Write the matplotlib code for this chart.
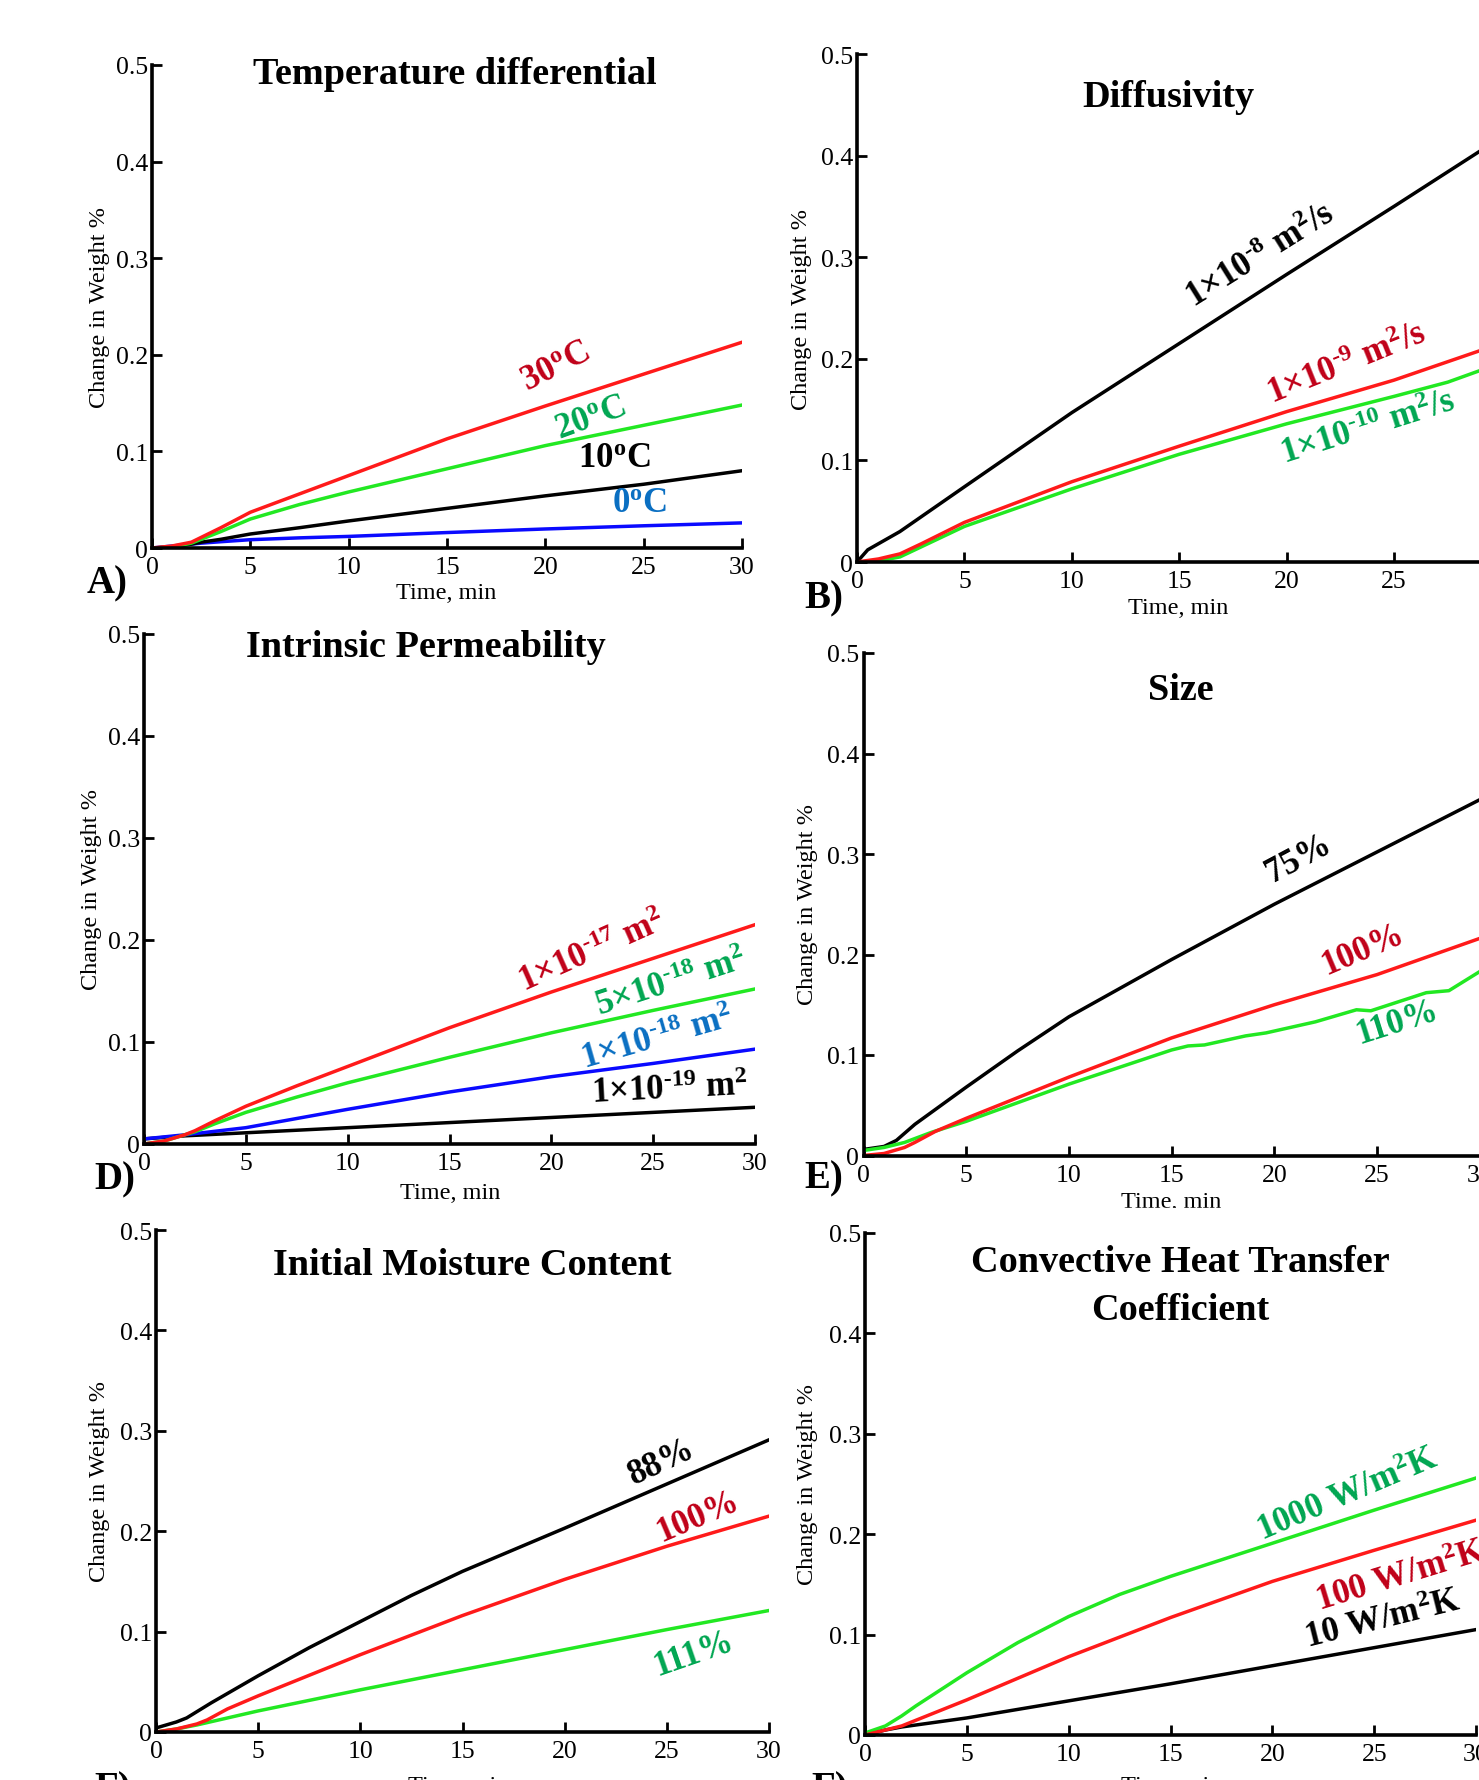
import numpy as np
import matplotlib.pyplot as plt
from matplotlib.patches import Rectangle

W, H = 1479, 1781

plt.rcParams['font.family'] = 'Liberation Serif'
plt.rcParams['mathtext.fontset'] = 'custom'
plt.rcParams['mathtext.rm'] = 'Liberation Serif'
plt.rcParams['mathtext.bf'] = 'Liberation Serif:bold'
plt.rcParams['mathtext.it'] = 'Liberation Serif:italic'

# line / label colours
RED, RED_T = '#ff1a1a', '#c00018'
GRN, GRN_T = '#22e822', '#00a651'
BLU, BLU_T = '#0a0aff', '#0a6fc2'
BLK = 'black'

x_ticks = [0, 5, 10, 15, 20, 25, 30]
y_ticks = [0, 0.1, 0.2, 0.3, 0.4, 0.5]
y_ticklabels = ['0', '0.1', '0.2', '0.3', '0.4', '0.5']

# A) Temperature differential
tA = [0, 1, 2, 2.5, 3.5, 5, 7.5, 10, 15, 20, 25, 30]
A_30 = [0, 0.002, 0.006, 0.011, 0.021, 0.037, 0.056, 0.075, 0.113, 0.147, 0.180, 0.213]
A_20 = [0, 0.001, 0.005, 0.009, 0.017, 0.030, 0.045, 0.058, 0.082, 0.106, 0.127, 0.148]
A_10 = [0, 0.001, 0.004, 0.006, 0.009, 0.0145, 0.021, 0.028, 0.041, 0.054, 0.066, 0.080]
A_0 = [0, 0.002, 0.004, 0.005, 0.0065, 0.0086, 0.0105, 0.012, 0.016, 0.0197, 0.023, 0.026]

# B) Diffusivity
tB_1e8 = [0, 0.5, 2, 5, 10, 15, 20, 25, 30]
B_1e8 = [0, 0.012, 0.030, 0.074, 0.147, 0.215, 0.283, 0.350, 0.418]
tB_1e9 = [0, 1, 2, 3, 5, 10, 15, 20, 25, 29, 30]
B_1e9 = [0, 0.003, 0.008, 0.018, 0.039, 0.079, 0.114, 0.148, 0.179, 0.208, 0.213]
tB_1e10 = [0, 1, 2, 3, 5, 10, 15, 20, 25, 27.5, 30]
B_1e10 = [0, 0.001, 0.005, 0.015, 0.035, 0.072, 0.106, 0.136, 0.163, 0.177, 0.196]

# D) Intrinsic permeability
tD = [0, 1, 2, 2.5, 3.5, 5, 7.5, 10, 15, 20, 25, 30]
D_1e17 = [0, 0.003, 0.009, 0.013, 0.023, 0.037, 0.057, 0.076, 0.114, 0.149, 0.182, 0.215]
D_5e18 = [0, 0.003, 0.009, 0.012, 0.020, 0.031, 0.046, 0.060, 0.085, 0.109, 0.131, 0.152]
tD_low = [0, 2, 5, 10, 15, 20, 25, 30]
D_1e18 = [0.005, 0.009, 0.016, 0.034, 0.051, 0.066, 0.079, 0.093]
D_1e19 = [0.005, 0.008, 0.011, 0.016, 0.021, 0.026, 0.031, 0.036]

# E) Size
tE_75 = [0, 1, 1.6, 2.5, 5, 7.5, 10, 15, 20, 25, 30]
E_75 = [0.006, 0.009, 0.015, 0.031, 0.068, 0.104, 0.138, 0.195, 0.250, 0.302, 0.354]
tE_100 = [0, 1, 2, 2.5, 3.5, 5, 10, 15, 20, 25, 30]
E_100 = [0, 0.002, 0.008, 0.013, 0.024, 0.037, 0.078, 0.117, 0.150, 0.180, 0.216]
tE_110 = [0, 1, 2, 3.3, 5, 10, 15, 15.8, 16.6, 18.6, 19.6, 22, 24, 24.7, 27.4, 28.5, 30]
E_110 = [0.005, 0.008, 0.013, 0.023, 0.034, 0.071, 0.105, 0.109, 0.110, 0.119, 0.122,
         0.133, 0.145, 0.144, 0.162, 0.164, 0.183]

# F) Initial moisture content
tF = [0, 1, 1.5, 2.7, 5, 7.5, 10, 12.5, 15, 20, 25, 30]
F_88 = [0.004, 0.010, 0.014, 0.029, 0.056, 0.084, 0.110, 0.136, 0.160, 0.203, 0.247, 0.291]
tF_100 = [0, 1, 2, 2.5, 3.5, 5, 10, 15, 20, 25, 30]
F_100 = [0, 0.003, 0.008, 0.012, 0.023, 0.036, 0.077, 0.116, 0.152, 0.185, 0.215]
tF_111 = [0, 1, 2, 5, 10, 15, 20, 25, 30]
F_111 = [0, 0.003, 0.007, 0.021, 0.042, 0.062, 0.082, 0.102, 0.121]

# F) Convective heat transfer coefficient
tG_1000 = [0, 1, 1.8, 2.5, 5, 7.5, 10, 12.5, 15, 20, 25, 30]
G_1000 = [0.002, 0.009, 0.019, 0.029, 0.062, 0.092, 0.118, 0.140, 0.158, 0.191, 0.224, 0.256]
tG_100 = [0, 1.8, 5, 10, 15, 20, 25, 30]
G_100 = [0, 0.009, 0.035, 0.078, 0.117, 0.153, 0.184, 0.214]
tG_10 = [0, 1, 1.8, 5, 10, 15, 20, 25, 30]
G_10 = [0, 0.005, 0.008, 0.017, 0.034, 0.051, 0.069, 0.087, 0.105]


fig = plt.figure(figsize=(W / 100, H / 100), dpi=100)


def px_axes(left, right, top, bottom):
    return fig.add_axes([left / W, 1 - bottom / H, (right - left) / W, (bottom - top) / H])


def ftext(px, py, s, **kw):
    return fig.text(px / W, 1 - py / H, s, **kw)


def style(ax):
    for s in ['top', 'right']:
        ax.spines[s].set_visible(False)
    for s in ['left', 'bottom']:
        ax.spines[s].set_linewidth(2.6)
    ax.set_xlim(0, 30)
    ax.set_ylim(0, 0.5)
    ax.set_xticks(x_ticks)
    ax.set_yticks(y_ticks)
    ax.set_yticklabels(y_ticklabels)
    ax.tick_params(direction='in', length=7, width=2, labelsize=18.5)
    ax.tick_params(axis='x', pad=6)
    ax.tick_params(axis='y', pad=3)
    ax.patch.set_alpha(0)


def curve_label(ax, x, y, s, rot, color):
    ax.text(x, y, s, rotation=rot, rotation_mode='anchor', ha='center', va='center',
            color=color, fontsize=25, fontweight='bold')


LW = 2.5
TS = 27.5   # title size
HY = '\u2010'  # short hyphen for the exponents

# ---------------- A
ax = px_axes(152, 742, 66, 549)
style(ax)
ax.plot(tA, A_0, color=BLU, lw=LW)
ax.plot(tA, A_10, color=BLK, lw=LW)
ax.plot(tA, A_20, color=GRN, lw=LW)
ax.plot(tA, A_30, color=RED, lw=LW)
curve_label(ax, 20.5, 0.188, r'30$^{\mathbf{o}}$C', 27, RED_T)
curve_label(ax, 22.3, 0.135, r'20$^{\mathbf{o}}$C', 20, GRN_T)
curve_label(ax, 23.5, 0.094, r'10$^{\mathbf{o}}$C', 0, BLK)
curve_label(ax, 24.8, 0.047, r'0$^{\mathbf{o}}$C', 0, BLU_T)
ftext(455, 84, 'Temperature differential', fontsize=TS, fontweight='bold', ha='center', va='baseline')
ftext(99, 307, 'Change in Weight %', fontsize=17.5, rotation=90, ha='center', va='center')
ftext(446, 599, 'Time, min', fontsize=17.5, ha='center', va='baseline')
ftext(87, 593, 'A)', fontsize=28, fontweight='bold', ha='left', va='baseline')

# ---------------- B
ax = px_axes(857, 857 + 30 * 21.48, 55, 563)
style(ax)
ax.plot(tB_1e8, B_1e8, color=BLK, lw=LW)
ax.plot(tB_1e10, B_1e10, color=GRN, lw=LW)
ax.plot(tB_1e9, B_1e9, color=RED, lw=LW)
curve_label(ax, 18.8, 0.302, '1×10$^{\\mathbf{' + HY + '8}}$ m$^{\\mathbf{2}}$/s', 32, BLK)
curve_label(ax, 22.8, 0.195, '1×10$^{\\mathbf{' + HY + '9}}$ m$^{\\mathbf{2}}$/s', 22, RED_T)
curve_label(ax, 23.8, 0.132, '1×10$^{\\mathbf{' + HY + '10}}$ m$^{\\mathbf{2}}$/s', 17.5, GRN_T)
ftext(1168, 107, 'Diffusivity', fontsize=TS, fontweight='bold', ha='center', va='baseline')
ftext(801, 309, 'Change in Weight %', fontsize=17.5, rotation=90, ha='center', va='center')
ftext(1178, 614, 'Time, min', fontsize=17.5, ha='center', va='baseline')
ftext(804, 608, 'B)', fontsize=28, fontweight='bold', ha='left', va='baseline')

# ---------------- D
ax = px_axes(144, 755, 635, 1145)
style(ax)
ax.plot(tD_low, D_1e19, color=BLK, lw=LW)
ax.plot(tD_low, D_1e18, color=BLU, lw=LW)
ax.plot(tD, D_5e18, color=GRN, lw=LW)
ax.plot(tD, D_1e17, color=RED, lw=LW)
curve_label(ax, 22.0, 0.189, '1×10$^{\\mathbf{' + HY + '17}}$ m$^{\\mathbf{2}}$', 24, RED_T)
curve_label(ax, 25.9, 0.158, '5×10$^{\\mathbf{' + HY + '18}}$ m$^{\\mathbf{2}}$', 18, GRN_T)
curve_label(ax, 25.2, 0.104, '1×10$^{\\mathbf{' + HY + '18}}$ m$^{\\mathbf{2}}$', 16, BLU_T)
curve_label(ax, 25.8, 0.054, '1×10$^{\\mathbf{' + HY + '19}}$ m$^{\\mathbf{2}}$', 3, BLK)
ftext(426, 657, 'Intrinsic Permeability', fontsize=TS, fontweight='bold', ha='center', va='baseline')
ftext(92, 890, 'Change in Weight %', fontsize=17.5, rotation=90, ha='center', va='center')
ftext(450, 1199, 'Time, min', fontsize=17.5, ha='center', va='baseline')
ftext(94, 1189, 'D)', fontsize=28, fontweight='bold', ha='left', va='baseline')

# ---------------- E
ax = px_axes(863.5, 863.5 + 30 * 20.54, 654, 1156.5)
style(ax)
ax.plot(tE_75, E_75, color=BLK, lw=LW)
ax.plot(tE_110, E_110, color=GRN, lw=LW)
ax.plot(tE_100, E_100, color=RED, lw=LW)
curve_label(ax, 21.2, 0.296, '75%', 28, BLK)
curve_label(ax, 24.3, 0.205, '100%', 23, RED_T)
curve_label(ax, 26.0, 0.133, '110%', 17.5, GRN_T)
ftext(1181, 700, 'Size', fontsize=TS, fontweight='bold', ha='center', va='baseline')
ftext(808, 905, 'Change in Weight %', fontsize=17.5, rotation=90, ha='center', va='center')
ftext(1171, 1208, 'Time, min', fontsize=17.5, ha='center', va='baseline')
ftext(804, 1188, 'E)', fontsize=28, fontweight='bold', ha='left', va='baseline')
# lower half of this axis title is hidden under the next panel in the source figure
fig.patches.append(Rectangle((1080 / W, 1 - 1224 / H), 190 / W, 15 / H,
                             transform=fig.transFigure, color='white', zorder=10))

# ---------------- F (moisture)
ax = px_axes(156, 769, 1231, 1733)
style(ax)
ax.plot(tF_111, F_111, color=GRN, lw=LW)
ax.plot(tF, F_88, color=BLK, lw=LW)
ax.plot(tF_100, F_100, color=RED, lw=LW)
curve_label(ax, 24.75, 0.269, '88%', 25, BLK)
curve_label(ax, 26.5, 0.215, '100%', 23, RED_T)
curve_label(ax, 26.3, 0.078, '111%', 19, GRN_T)
ftext(472, 1275, 'Initial Moisture Content', fontsize=TS, fontweight='bold', ha='center', va='baseline')
ftext(99, 1482, 'Change in Weight %', fontsize=17.5, rotation=90, ha='center', va='center')
ftext(458, 1792, 'Time, min', fontsize=17.5, ha='center', va='baseline')
ftext(94, 1799, 'F)', fontsize=28, fontweight='bold', ha='left', va='baseline')

# ---------------- F (convective)
ax = px_axes(865, 865 + 30 * 20.37, 1234, 1736)
style(ax)
ax.plot(tG_10, G_10, color=BLK, lw=LW)
ax.plot(tG_1000, G_1000, color=GRN, lw=LW)
ax.plot(tG_100, G_100, color=RED, lw=LW)
curve_label(ax, 23.7, 0.240, r'1000 W/m$^{\mathbf{2}}$K', 23, GRN_T)
curve_label(ax, 26.3, 0.158, r'100 W/m$^{\mathbf{2}}$K', 17, RED_T)
curve_label(ax, 25.4, 0.115, r'10 W/m$^{\mathbf{2}}$K', 14, BLK)
ftext(1180, 1272, 'Convective Heat Transfer', fontsize=TS, fontweight='bold', ha='center', va='baseline')
ftext(1180, 1320, 'Coefficient', fontsize=TS, fontweight='bold', ha='center', va='baseline')
ftext(808, 1485, 'Change in Weight %', fontsize=17.5, rotation=90, ha='center', va='center')
ftext(1171, 1792, 'Time, min', fontsize=17.5, ha='center', va='baseline')
ftext(811, 1799, 'F)', fontsize=28, fontweight='bold', ha='left', va='baseline')

fig.savefig('out.png', dpi=100)
